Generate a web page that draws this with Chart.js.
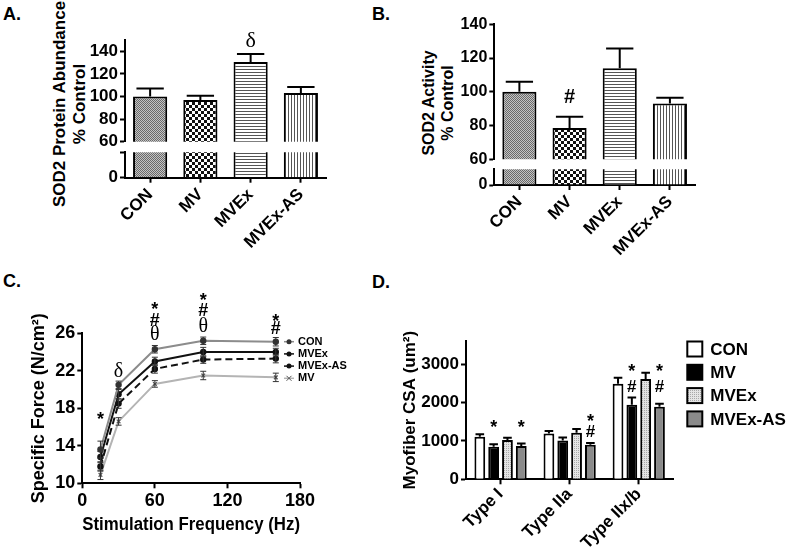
<!DOCTYPE html>
<html>
<head>
<meta charset="utf-8">
<script src="https://cdn.jsdelivr.net/npm/chart.js@4.4.1/dist/chart.umd.min.js"></script>
<style>
  body { margin: 0; background: #fff; }
  #page { position: relative; width: 787px; height: 553px; overflow: hidden; font-family: "Liberation Sans", Arial, sans-serif; }
  canvas { position: absolute; }
  .letter { position: absolute; font-weight: bold; font-size: 18px; line-height: 18px; }
  .ytitle { position: absolute; font-weight: bold; white-space: nowrap; text-align: center;
            transform: translate(-50%, -50%) rotate(-90deg); }
</style>
</head>
<body>
<div id="page">
  <div class="letter" style="left:3px;top:5px">A.</div>
  <div class="letter" style="left:372px;top:5px">B.</div>
  <div class="letter" style="left:3px;top:272px">C.</div>
  <div class="letter" style="left:372px;top:273px">D.</div>

  <div class="ytitle" style="left:70px;top:104px;font-size:17px;line-height:20px">SOD2 Protein Abundance<br>% Control</div>
  <div class="ytitle" style="left:438px;top:103px;font-size:16px;line-height:19px">SOD2 Activity<br>% Control</div>

  <canvas id="aTop" width="390" height="280" style="left:0;top:0"></canvas>
  <canvas id="aBot" width="390" height="280" style="left:0;top:0"></canvas>
  <canvas id="bTop" width="397" height="280" style="left:390px;top:0"></canvas>
  <canvas id="bBot" width="397" height="280" style="left:390px;top:0"></canvas>
  <canvas id="cChart" width="390" height="273" style="left:0;top:280px"></canvas>
  <canvas id="dChart" width="397" height="273" style="left:390px;top:280px"></canvas>
</div>

<script>
// treatment groups
const groups = ['CON', 'MV', 'MVEx', 'MVEx-AS'];

// A: SOD2 protein abundance (% control)
const abundance = [100, 97, 130.5, 103];
const abundanceErr = [7, 3.6, 7.2, 5.3];

// B: SOD2 activity (% control)
const activity = [100, 78.5, 114, 93];
const activityErr = [6, 6.7, 11.6, 3.5];

// C: specific force vs stimulation frequency
const freqs = [15, 30, 60, 100, 160];
const forceSeries = ['CON', 'MVEx', 'MVEx-AS', 'MV'];
const forceCON = [13.6, 20.5, 24.3, 25.2, 25.1];
const forceMVEx = [12.8, 19.5, 23.0, 24.0, 24.0];
const forceMVExAS = [11.8, 18.5, 22.2, 23.2, 23.3];
const forceMV = [10.9, 16.6, 20.6, 21.5, 21.3];
const forceCONErr = [0.9, 0.4, 0.4, 0.4, 0.45];
const forceMVExErr = [0.6, 0.5, 0.45, 0.5, 0.4];
const forceMVExASErr = [0.5, 0.5, 0.45, 0.4, 0.45];
const forceMVErr = [0.5, 0.4, 0.35, 0.45, 0.45];

// D: myofiber cross-sectional area
const fiberTypes = ['Type I', 'Type IIa', 'Type IIx/b'];
const csaTicks = [0, 1000, 2000, 3000];
const csaCON = [1110, 1190, 2490];
const csaMV = [850, 1010, 1940];
const csaMVEx = [1020, 1210, 2610];
const csaMVExAS = [870, 900, 1890];
const csaCONErr = [60, 70, 155];
const csaMVErr = [60, 80, 190];
const csaMVExErr = [60, 100, 165];
const csaMVExASErr = [60, 45, 75];

// significance marks (t = symbol, y = value at symbol centre)
const marksA = [{ ds: 0, i: 2, t: 'δ', y: 150.4 }];
const marksB = [{ ds: 0, i: 1, t: '#', y: 97.5 }];
const marksC = [
  { x: 15, t: '*', y: 17.3 },
  { x: 30, t: 'δ', y: 22.1 },
  { x: 60, t: 'θ', y: 26.0 }, { x: 60, t: '#', y: 27.5 }, { x: 60, t: '*', y: 29.0 },
  { x: 100, t: 'θ', y: 26.9 }, { x: 100, t: '#', y: 28.5 }, { x: 100, t: '*', y: 30.0 },
  { x: 160, t: '#', y: 26.6 }, { x: 160, t: '*', y: 27.8 }
];
const marksD = [
  { ds: 1, i: 0, t: '*', y: 1460 },
  { ds: 3, i: 0, t: '*', y: 1460 },
  { ds: 3, i: 1, t: '#', y: 1255 }, { ds: 3, i: 1, t: '*', y: 1620 },
  { ds: 1, i: 2, t: '#', y: 2420 }, { ds: 1, i: 2, t: '*', y: 2915 },
  { ds: 3, i: 2, t: '#', y: 2420 }, { ds: 3, i: 2, t: '*', y: 2915 }
];

const SANS = '"Liberation Sans", Arial, sans-serif';
const SERIF = '"Liberation Serif", "Times New Roman", serif';

Chart.defaults.font.family = SANS;
Chart.defaults.font.weight = 'bold';
Chart.defaults.color = '#000';
Chart.defaults.animation = false;
Chart.defaults.plugins.legend.display = false;
Chart.defaults.plugins.tooltip.enabled = false;

// bar fill patterns
function pattern(kind) {
  const c = document.createElement('canvas');
  const g = c.getContext('2d');
  if (kind === 'dither') {
    c.width = c.height = 2;
    g.fillStyle = '#c4c4c4'; g.fillRect(0, 0, 2, 2);
    g.fillStyle = '#6a6a6a'; g.fillRect(0, 0, 1, 1); g.fillRect(1, 1, 1, 1);
  } else if (kind === 'checker') {
    c.width = c.height = 6;
    g.fillStyle = '#fff'; g.fillRect(0, 0, 6, 6);
    g.fillStyle = '#111'; g.fillRect(0, 0, 3, 3); g.fillRect(3, 3, 3, 3);
  } else if (kind === 'hlines') {
    c.width = 3; c.height = 3;
    g.fillStyle = '#fff'; g.fillRect(0, 0, 3, 3);
    g.fillStyle = '#555'; g.fillRect(0, 0, 3, 1);
  } else if (kind === 'vlines') {
    c.width = 3; c.height = 3;
    g.fillStyle = '#fff'; g.fillRect(0, 0, 3, 3);
    g.fillStyle = '#555'; g.fillRect(0, 0, 1, 3);
  } else if (kind === 'light') {
    c.width = c.height = 2;
    g.fillStyle = '#e4e4e4'; g.fillRect(0, 0, 2, 2);
    g.fillStyle = '#a8a8a8'; g.fillRect(0, 0, 1, 1);
  }
  return g.createPattern(c, 'repeat');
}
const groupFills = [pattern('dither'), pattern('checker'), pattern('hlines'), pattern('vlines')];

// error bars (upward for bars, both ways for line points)
const errorBars = {
  id: 'errorBars',
  afterDatasetsDraw(chart) {
    const ctx = chart.ctx;
    chart.data.datasets.forEach((ds, k) => {
      if (!ds.errorBars) return;
      const meta = chart.getDatasetMeta(k);
      const ys = chart.scales[meta.yAxisID];
      ctx.save();
      ctx.strokeStyle = ds.errorColor || '#000';
      ctx.lineWidth = ds.errorWidth || 2;
      meta.data.forEach((el, j) => {
        const err = ds.errorBars[j];
        const v = typeof ds.data[j] === 'object' ? ds.data[j].y : ds.data[j];
        const yTop = ys.getPixelForValue(v + err);
        const yBot = ds.errorBoth ? ys.getPixelForValue(v - err) : el.y;
        const cap = ds.capHalf || el.width * 0.4;
        ctx.beginPath();
        ctx.moveTo(el.x, yBot); ctx.lineTo(el.x, yTop);
        ctx.moveTo(el.x - cap, yTop); ctx.lineTo(el.x + cap, yTop);
        if (ds.errorBoth) { ctx.moveTo(el.x - cap, yBot); ctx.lineTo(el.x + cap, yBot); }
        ctx.stroke();
      });
      ctx.restore();
    });
  }
};

// glyph font and how far its visual centre sits above the baseline
const GLYPH = {
  '*': { fam: SANS, w: 'bold', rise: 0.56 },
  '#': { fam: SANS, w: 'bold', rise: 0.36 },
  'δ': { fam: SERIF, w: 'normal', rise: 0.36 },
  'θ': { fam: SERIF, w: 'normal', rise: 0.35 }
};
function marksPlugin(items, sizes) {
  return {
    id: 'marks',
    afterDatasetsDraw(chart) {
      const ctx = chart.ctx;
      const ys = chart.scales.y;
      items.forEach(m => {
        const x = m.ds != null ? chart.getDatasetMeta(m.ds).data[m.i].x : chart.scales.x.getPixelForValue(m.x);
        const g = GLYPH[m.t];
        const size = sizes[m.t];
        ctx.save();
        ctx.fillStyle = '#000';
        ctx.font = g.w + ' ' + size + 'px ' + g.fam;
        ctx.textAlign = 'center';
        ctx.textBaseline = 'alphabetic';
        ctx.fillText(m.t, x, ys.getPixelForValue(m.y) + g.rise * size);
        ctx.restore();
      });
    }
  };
}

function yAxis(min, max, step, size, width, extra) {
  return Object.assign({
    min: min, max: max,
    border: { color: '#000', width: 2 },
    grid: { drawOnChartArea: false, color: '#000', tickLength: 5, tickWidth: 2 },
    ticks: { stepSize: step, includeBounds: false, font: { size: size, weight: 'bold' }, color: '#000', padding: 2 },
    afterFit: s => { s.width = width; }
  }, extra || {});
}

function catAxis(size, height, pad) {
  return {
    z: 1,
    border: { color: '#000', width: 2 },
    grid: { drawOnChartArea: false, offset: false, color: '#000', tickLength: 5, tickWidth: 2 },
    ticks: { autoSkip: false, minRotation: 45, maxRotation: 45, font: { size: size, weight: 'bold' }, color: '#000', padding: pad },
    afterFit: s => { s.height = height; }
  };
}

// broken-axis bar panel: upper segment (60..max) over lower segment (0..20)
function brokenPanel(topId, botId, values, errs, p) {
  new Chart(document.getElementById(topId), {
    type: 'bar',
    data: {
      labels: groups,
      datasets: [{
        data: values, backgroundColor: groupFills, borderColor: '#000', borderWidth: 2,
        categoryPercentage: 1, barPercentage: 0.68, clip: 0, errorBars: errs
      }]
    },
    options: {
      responsive: false,
      layout: { padding: { left: p.left, right: p.right, top: p.upTop, bottom: p.upBottom } },
      scales: {
        x: { display: false },
        y: yAxis(60, p.max, 20, p.tick, 45)
      }
    },
    plugins: [errorBars, marksPlugin(p.marks, p.markSize)]
  });
  new Chart(document.getElementById(botId), {
    type: 'bar',
    data: {
      labels: groups,
      datasets: [{
        data: values, backgroundColor: groupFills, borderColor: '#000', borderWidth: 2,
        categoryPercentage: 1, barPercentage: 0.68, clip: 0
      }]
    },
    options: {
      responsive: false,
      layout: { padding: { left: p.left, right: p.right, top: p.lowTop, bottom: p.lowBottom } },
      scales: {
        x: catAxis(17, 80, 2),
        y: yAxis(0, 20, 20, p.tick, 45, {
          ticks: { stepSize: 20, font: { size: p.tick, weight: 'bold' }, color: '#000', padding: 2,
                   callback: v => (v === 0 ? '0' : '') }
        })
      }
    }
  });
}

brokenPanel('aTop', 'aBot', abundance, abundanceErr, {
  left: 80, right: 64, upTop: 40, upBottom: 138.3, lowTop: 152.3, lowBottom: 22.3,
  max: 150, tick: 17, marks: marksA, markSize: { 'δ': 22 }
});
brokenPanel('bTop', 'bBot', activity, activityErr, {
  left: 59.3, right: 92, upTop: 24.3, upBottom: 120.7, lowTop: 169.3, lowBottom: 15,
  max: 140, tick: 16, marks: marksB, markSize: { '#': 20 }
});

// C: force-frequency curves
const forceValues = [forceCON, forceMVEx, forceMVExAS, forceMV];
const forceErrs = [forceCONErr, forceMVExErr, forceMVExASErr, forceMVErr];
const lineStyles = [
  { borderColor: '#8c8c8c', pointStyle: 'circle', pointBackgroundColor: '#333', pointBorderColor: '#333', borderDash: [] },
  { borderColor: '#111', pointStyle: 'circle', pointBackgroundColor: '#111', pointBorderColor: '#111', borderDash: [] },
  { borderColor: '#111', pointStyle: 'circle', pointBackgroundColor: '#111', pointBorderColor: '#111', borderDash: [7, 4] },
  { borderColor: '#b4b4b4', pointStyle: 'crossRot', pointBackgroundColor: '#555', pointBorderColor: '#555', borderDash: [] }
];

const legendC = {
  id: 'legendC',
  afterDraw(chart) {
    const ctx = chart.ctx, a = chart.chartArea;
    chart.data.datasets.forEach((ds, k) => {
      const x = a.right - 11, y = a.top + 8.4 + k * 12.2;
      ctx.save();
      ctx.strokeStyle = ds.borderColor; ctx.lineWidth = 1.5;
      ctx.beginPath(); ctx.moveTo(x - 5, y); ctx.lineTo(x + 5, y); ctx.stroke();
      ctx.fillStyle = ds.pointBackgroundColor; ctx.strokeStyle = ds.pointBorderColor; ctx.lineWidth = 1;
      if (ds.pointStyle === 'crossRot') {
        ctx.beginPath();
        ctx.moveTo(x - 2.5, y - 2.5); ctx.lineTo(x + 2.5, y + 2.5);
        ctx.moveTo(x - 2.5, y + 2.5); ctx.lineTo(x + 2.5, y - 2.5);
        ctx.stroke();
      } else {
        ctx.beginPath(); ctx.arc(x, y, 2.5, 0, Math.PI * 2); ctx.fill();
      }
      ctx.fillStyle = '#000';
      ctx.font = 'bold 11px ' + SANS;
      ctx.textBaseline = 'middle'; ctx.textAlign = 'left';
      ctx.fillText(ds.label, a.right - 2, y);
      ctx.restore();
    });
  }
};

new Chart(document.getElementById('cChart'), {
  type: 'line',
  data: {
    datasets: forceSeries.map((name, k) => Object.assign({
      label: name,
      data: freqs.map((f, j) => ({ x: f, y: forceValues[k][j] })),
      borderWidth: 2, pointRadius: 2.6, pointBorderWidth: 1.2, tension: 0,
      errorBars: forceErrs[k], errorBoth: true, capHalf: 3, errorWidth: 1, errorColor: '#333'
    }, lineStyles[k]))
  },
  options: {
    responsive: false,
    layout: { padding: { left: 20, right: 90, top: 53.3, bottom: 8 } },
    scales: {
      x: {
        type: 'linear', min: 0, max: 180,
        border: { color: '#000', width: 2 },
        grid: { drawOnChartArea: false, color: '#000', tickLength: 5, tickWidth: 2 },
        ticks: { stepSize: 60, font: { size: 18, weight: 'bold' }, color: '#000', padding: 2 },
        title: { display: true, text: 'Stimulation Frequency (Hz)', font: { size: 18, weight: 'bold' }, color: '#000', padding: { top: 0, bottom: 9 } },
        afterFit: s => { s.height = 61.7; }
      },
      y: yAxis(10, 26, 4, 18, 62.3, {
        title: { display: true, text: 'Specific Force (N/cm²)', font: { size: 18, weight: 'bold' }, color: '#000', padding: { top: 8, bottom: 0 } }
      })
    }
  },
  plugins: [errorBars, legendC, marksPlugin(marksC, { '*': 18, '#': 18, 'δ': 20, 'θ': 20 })]
});

// D: grouped bars by fibre type
const csaValues = [csaCON, csaMV, csaMVEx, csaMVExAS];
const csaErrs = [csaCONErr, csaMVErr, csaMVExErr, csaMVExASErr];
const csaFills = ['#fff', '#000', pattern('light'), '#8a8a8a'];

const legendD = {
  id: 'legendD',
  afterDraw(chart) {
    const ctx = chart.ctx, a = chart.chartArea;
    chart.data.datasets.forEach((ds, k) => {
      const x = a.right + 14, y = a.top + 8 + k * 23.3;
      ctx.save();
      ctx.fillStyle = ds.backgroundColor;
      ctx.fillRect(x, y - 7.5, 15, 15);
      ctx.strokeStyle = '#000'; ctx.lineWidth = 2;
      ctx.strokeRect(x, y - 7.5, 15, 15);
      ctx.fillStyle = '#000';
      ctx.font = 'bold 17px ' + SANS;
      ctx.textBaseline = 'middle'; ctx.textAlign = 'left';
      ctx.fillText(ds.label, x + 23, y + 1);
      ctx.restore();
    });
  }
};

new Chart(document.getElementById('dChart'), {
  type: 'bar',
  data: {
    labels: fiberTypes,
    datasets: groups.map((name, k) => ({
      label: name, data: csaValues[k], backgroundColor: csaFills[k],
      borderColor: '#000', borderWidth: 2, categoryPercentage: 0.8, barPercentage: 0.78,
      clip: 0, errorBars: csaErrs[k]
    }))
  },
  options: {
    responsive: false,
    layout: { padding: { left: 4, right: 113.7, top: 61, bottom: 0 } },
    scales: {
      x: catAxis(17, 73.7, 0),
      y: yAxis(0, 3600, 1000, 17, 72, {
        ticks: { font: { size: 17, weight: 'bold' }, color: '#000', padding: 2, callback: v => String(v) },
        afterBuildTicks: s => { s.ticks = csaTicks.map(v => ({ value: v })); },
        title: { display: true, text: 'Myofiber CSA (um²)', font: { size: 17, weight: 'bold' }, color: '#000', padding: { top: 6, bottom: 0 } }
      })
    }
  },
  plugins: [errorBars, legendD, marksPlugin(marksD, { '*': 18, '#': 17 })]
});
</script>
</body>
</html>
